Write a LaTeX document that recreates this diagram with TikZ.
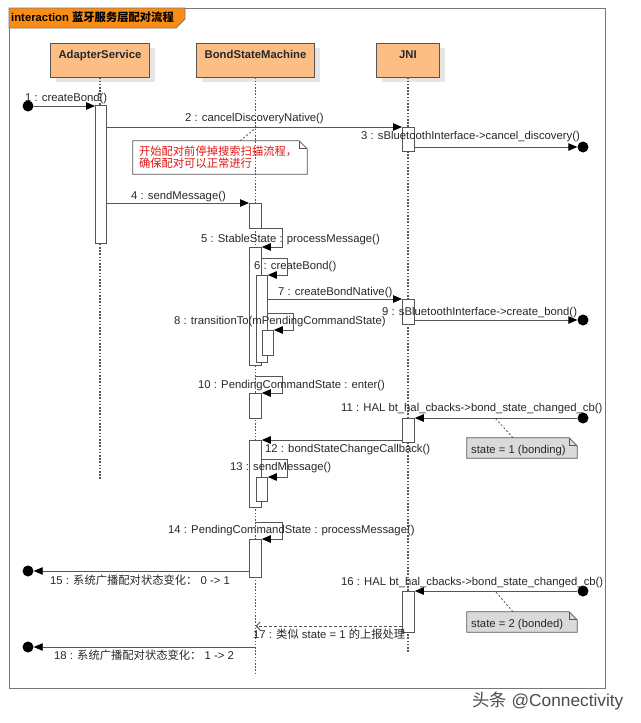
\documentclass[tikz,border=0pt]{standalone}
\usepackage{fontspec}
\setmainfont{Liberation Sans}
\newfontfamily\cjk{Noto Sans CJK SC}
\usetikzlibrary{arrows.meta,shadows}
\definecolor{headfill}{RGB}{253,190,134}
\definecolor{tabfill}{RGB}{250,140,20}
\definecolor{linec}{RGB}{85,85,85}
\definecolor{textc}{RGB}{40,40,40}
\definecolor{notegray}{RGB}{218,218,218}
\definecolor{notered}{RGB}{228,20,20}
\definecolor{framec}{RGB}{120,120,120}
\newcommand\lblfont{\fontsize{11.3}{13}\selectfont}
\newcommand\notefont{\fontsize{11.3}{11.6}\selectfont}
\begin{document}
\begin{tikzpicture}[x=1pt,y=-1pt,
  lbl/.style={font=\lblfont, text=textc, inner sep=0pt, anchor=base west},
  head/.style={draw=linec, fill=headfill, line width=0.8pt, minimum height=34pt,
    text height=8pt, text depth=12pt, inner sep=0pt, font=\lblfont\bfseries, text=textc,
    drop shadow={shadow xshift=5pt, shadow yshift=-5pt, fill=black!10, opacity=1}},
  life/.style={draw=linec, line width=1.1pt, dash pattern=on 1.6pt off 1.6pt},
  act/.style={draw=linec, fill=white, line width=0.8pt, anchor=north west, inner sep=0pt},
  msg/.style={draw=linec, line width=0.9pt, -{Triangle[length=9pt,width=7.5pt,color=black]}},
  ret/.style={draw=linec, line width=0.9pt, dash pattern=on 3pt off 2pt, -{Straight Barb[length=4pt,width=8pt]}},
  dot/.style={circle, fill=black, inner sep=0pt, minimum size=11pt},
  noteln/.style={draw=linec, line width=0.8pt, dash pattern=on 2pt off 2pt},
  notebox/.style={inner sep=0pt, align=left},
]
\fill[white] (0,0) rectangle (640,723);
\useasboundingbox (0,0) rectangle (640,723);

% frame
\draw[framec, line width=1pt] (9,8) rectangle (605,688);
\filldraw[fill=tabfill, draw=framec, line width=0.8pt] (9,8) -- (185,8) -- (185,19) -- (176,28) -- (9,28) -- cycle;
\node[font=\lblfont\bfseries, text=black, anchor=base west, inner sep=0pt] (title) at (11,21.5) {interaction {\cjk 蓝牙服务层配对流程}};

% heads
\node[head, minimum width=99pt] (as) at (100,60) {AdapterService};
\node[head, minimum width=118pt] (bsm) at (255.5,60) {BondStateMachine};
\node[head, minimum width=63pt] (jni) at (408,60) {JNI};

% lifelines
\coordinate (asend) at (100,480);
\coordinate (bsmend) at (255.5,673);
\coordinate (jniend) at (408,652);
\draw[life] (as.south) -- (asend);
\draw[life] (bsm.south) -- (bsmend);
\draw[life] (jni.south) -- (jniend);

% activation bars
\node[act, minimum width=11pt, minimum height=138pt] (a1) at (95,105) {};
\node[act, minimum width=12pt, minimum height=24pt] (j1) at (402,127) {};
\node[act, minimum width=12pt, minimum height=25pt] (b4) at (249,203) {};
\node[act, minimum width=12pt, minimum height=118pt] (b5) at (249,247) {};
\node[act, minimum width=11pt, minimum height=87pt] (b6) at (256,275) {};
\node[act, minimum width=12pt, minimum height=25pt] (j7) at (402,299) {};
\node[act, minimum width=11pt, minimum height=25pt] (b8) at (262,330) {};
\node[act, minimum width=12pt, minimum height=25pt] (b10) at (249,393) {};
\node[act, minimum width=12pt, minimum height=24pt] (j11) at (402,418) {};
\node[act, minimum width=12pt, minimum height=67pt] (b12) at (249,440) {};
\node[act, minimum width=11pt, minimum height=24pt] (b13) at (256,477) {};
\node[act, minimum width=12pt, minimum height=38pt] (b14) at (249,539) {};
\node[act, minimum width=12pt, minimum height=41pt] (j16) at (402,591) {};

% found / lost ends
\node[dot] (f1) at (28,106) {};
\node[dot] (l3) at (583,147) {};
\node[dot] (l9) at (583,320) {};
\node[dot] (f11) at (583,418) {};
\node[dot] (l15) at (28,571) {};
\node[dot] (f16) at (583,591) {};
\node[dot] (l18) at (28,647) {};

% notes
\node[notebox, minimum width=174pt, minimum height=33pt, text width=162pt, font=\notefont\cjk, text=notered] (n1) at (220,157.5)
  {开始配对前停掉搜索扫描流程，\\确保配对可以正常进行};
\draw[linec, line width=0.8pt] (n1.north west) -- ([xshift=-8pt]n1.north east) -- ([yshift=-8pt]n1.north east) -- (n1.south east) -- (n1.south west) -- cycle;
\draw[linec, line width=0.8pt] ([xshift=-8pt]n1.north east) -- ([xshift=-8pt,yshift=-8pt]n1.north east) -- ([yshift=-8pt]n1.north east);

\node[notebox, minimum width=110pt, minimum height=20pt, text width=102pt, inner xsep=4pt] (n11) at (522,448) {};
\node[notebox, minimum width=110pt, minimum height=20pt, text width=102pt, inner xsep=4pt] (n16) at (522,622) {};
\foreach \n in {n11,n16}{
  \fill[notegray] (\n.north west) -- ([xshift=-8pt]\n.north east) -- ([yshift=-8pt]\n.north east) -- (\n.south east) -- (\n.south west) -- cycle;
  \draw[linec, line width=0.8pt] (\n.north west) -- ([xshift=-8pt]\n.north east) -- ([yshift=-8pt]\n.north east) -- (\n.south east) -- (\n.south west) -- cycle;
  \draw[linec, line width=0.8pt] ([xshift=-8pt]\n.north east) -- ([xshift=-8pt,yshift=-8pt]\n.north east) -- ([yshift=-8pt]\n.north east);
}
\node[lbl] (s11) at (471,453.8) {state = 1 (bonding)};
\node[lbl] (s16) at (471,627) {state = 2 (bonded)};

\coordinate (c2) at (257,127);
\coordinate (c11) at (495,418);
\coordinate (c16) at (495,591);
\draw[noteln] (n1.north -| 240,0) -- (c2);
\draw[noteln] (n11.north -| 513,0) -- (c11);
\draw[noteln] (n16.north -| 513,0) -- (c16);

% messages
\draw[msg] (f1) -- (a1.west |- f1);
\draw[msg] (a1.east |- j1.north) -- (j1.north west);
\draw[msg] (j1.east |- l3) -- (l3);
\draw[msg] (a1.east |- b4.north) -- (b4.north west);
\draw[msg] (b4.south east) -- ++(21,0) |- (b5.north east);
\draw[msg] (b5.east |- 0,258) -- ++(26,0) |- (b6.north east);
\draw[msg] (b6.east |- j7.north) -- (j7.north west);
\draw[msg] (b6.east |- 0,313.5) -- ++(26,0) |- (b8.north east);
\draw[msg] (j7.east |- l9) -- (l9);
\draw[msg] (bsm.south |- 0,376) -- ++(26.5,0) |- (b10.north east);
\draw[msg] (f11) -- (j11.north east);
\draw[msg] (j11.west |- b12.north) -- (b12.north east);
\draw[msg] (b12.east |- 0,459) -- ++(26,0) |- (b13.north east);
\draw[msg] (bsm.south |- 0,522) -- ++(26.5,0) |- (b14.north east);
\draw[msg] (b14.west |- l15) -- (l15);
\draw[msg] (f16) -- (j16.north east);
\coordinate (r17) at (255.5,626);
\draw[ret] (j16.west |- r17) -- (r17);
\draw[msg] (bsm.south |- l18) -- (l18);

% labels
\node[lbl] (t1) at (25,101) {1 : createBond()};
\node[lbl] (t2) at (185,121) {2 : cancelDiscoveryNative()};
\node[lbl] (t3) at (361,139.5) {3 : sBluetoothInterface->cancel\_discovery()};
\node[lbl] (t4) at (131,199.5) {4 : sendMessage()};
\node[lbl] (t5) at (201,242.5) {5 : StableState : processMessage()};
\node[lbl] (t6) at (254,269.5) {6 : createBond()};
\node[lbl] (t7) at (278,295) {7 : createBondNative()};
\node[lbl] (t8) at (174,324.5) {8 : transitionTo(mPendingCommandState)};
\node[lbl] (t9) at (382,315.5) {9 : sBluetoothInterface->create\_bond()};
\node[lbl] (t10) at (198,388) {10 : PendingCommandState : enter()};
\node[lbl] (t11) at (341,411) {11 : HAL bt\_hal\_cbacks->bond\_state\_changed\_cb()};
\node[lbl] (t12) at (265,452) {12 : bondStateChangeCallback()};
\node[lbl] (t13) at (230,470.5) {13 : sendMessage()};
\node[lbl] (t14) at (168,533.5) {14 : PendingCommandState : processMessage()};
\node[lbl] (t15) at (50,584.5) {15 : {\cjk 系统广播配对状态变化：} 0 -> 1};
\node[lbl] (t16) at (341,585) {16 : HAL bt\_hal\_cbacks->bond\_state\_changed\_cb()};
\node[lbl] (t17) at (253,638.5) {17 : {\cjk 类似} state = 1 {\cjk 的上报处理}};
\node[lbl] (t18) at (54,659.5) {18 : {\cjk 系统广播配对状态变化：} 1 -> 2};

% watermark
\node[font=\fontsize{17.3}{20}\selectfont, text=black!70, anchor=base west, inner sep=0pt] (wm) at (472,706.5) {{\cjk 头条} @Connectivity};
\end{tikzpicture}
\end{document}
